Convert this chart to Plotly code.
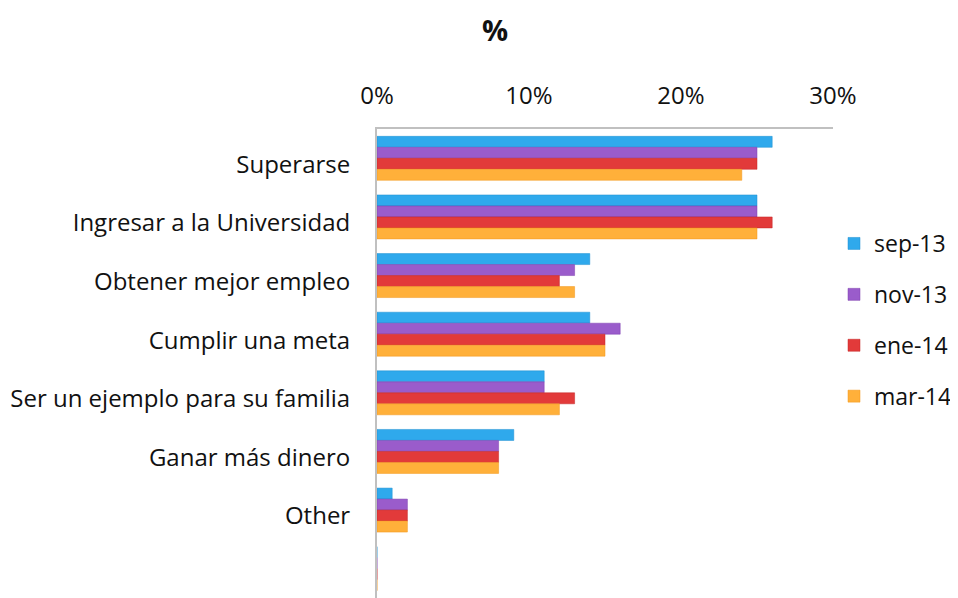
import plotly.graph_objects as go

categories = ["Superarse", "Ingresar a la Universidad", "Obtener mejor empleo",
              "Cumplir una meta", "Ser un ejemplo para su familia",
              "Ganar más dinero", "Other", " "]
series_names = ["sep-13", "nov-13", "ene-14", "mar-14"]
sep13 = [26, 25, 14, 14, 11, 9, 1, 0]
nov13 = [25, 25, 13, 16, 11, 8, 2, 0]
ene14 = [25, 26, 12, 15, 13, 8, 2, 0]
mar14 = [24, 25, 13, 15, 12, 8, 2, 0]
x_ticks = [0, 10, 20, 30]
x_tick_labels = ["0%", "10%", "20%", "30%"]

colors = ["#2fa9ec", "#9a5ccb", "#e23a3a", "#ffb03a"]
line_colors = ["#1d8fd0", "#7c3fae", "#c42424", "#f0961a"]
values = [sep13, nov13, ene14, mar14]

# page body has an 8px margin: work in figure coordinates (pixel - 8)
W, H = 950, 590
L, R, T = 369, 825, 121
PW, PH = R - L, H - T

fig = go.Figure()
for name, vals, c, lc in zip(series_names, values, colors, line_colors):
    fig.add_trace(go.Bar(
        y=categories, x=vals, name=name, orientation="h",
        marker=dict(color=c, line=dict(color=lc, width=0.5)),
        legendgroup=name,
    ))

FONT = "'Open Sans', Lato, sans-serif"
fig.update_layout(
    width=W, height=H,
    margin=dict(l=L, r=W - R, t=T, b=0, autoexpand=False),
    paper_bgcolor="white", plot_bgcolor="white",
    barmode="group", bargap=0.25, bargroupgap=0,
    font=dict(family=FONT, size=24, color="#111111"),
    showlegend=True,
    legend=dict(x=(826 - L) / PW, xanchor="left", y=(H - 214) / PH, yanchor="top",
                font=dict(size=23), tracegroupgap=18,
                itemwidth=30, bgcolor="rgba(0,0,0,0)"),
    annotations=[dict(text="<b>%</b>", x=(487 - L) / PW, xref="paper",
                      y=(H - 0) / PH, yref="paper", showarrow=False,
                      font=dict(size=29), xanchor="center", yanchor="top")],
)

fig.update_xaxes(side="top", range=[0, 30], tickvals=x_ticks, ticktext=x_tick_labels,
                 showgrid=False, zeroline=False, showline=True, linecolor="#c0c0c0",
                 linewidth=2, ticks="", ticklabelstandoff=13, automargin=False,
                 tickfont=dict(size=24))
fig.update_yaxes(autorange="reversed", showgrid=False, showline=True,
                 linecolor="#c0c0c0", linewidth=2, ticks="", ticklabelstandoff=20,
                 ticklabelshift=-6, automargin=False, tickfont=dict(size=24))

fig.write_html("out.html")
